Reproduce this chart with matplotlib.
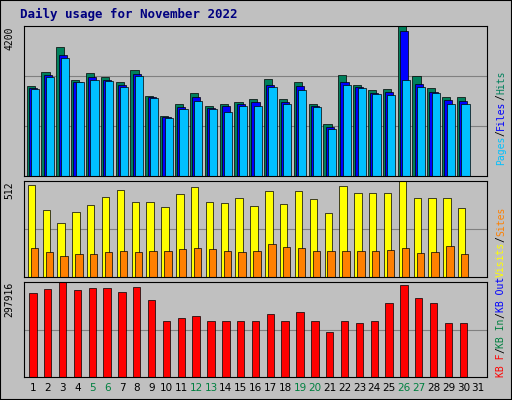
import numpy as np
from matplotlib import pyplot as plt

days = list(range(1, 32))
weekend = [5, 6, 12, 13, 19, 20, 26, 27]
hits = [2526, 2923, 3605, 2696, 2895, 2781, 2640, 2980, 2242, 1675, 2015, 2327, 1958, 2015, 2072,
        2157, 2724, 2157, 2640, 2015, 1447, 2838, 2554, 2412, 2441, 4200, 2810, 2469, 2214, 2214, 0]
files = [2470, 2840, 3380, 2640, 2760, 2700, 2560, 2850, 2200, 1640, 1930, 2200, 1900, 1960, 2010,
         2080, 2560, 2060, 2530, 1960, 1370, 2620, 2500, 2320, 2360, 4060, 2580, 2360, 2130, 2100, 0]
pages = [2450, 2780, 3300, 2620, 2700, 2650, 2500, 2800, 2180, 1620, 1880, 2100, 1880, 1800, 1960,
         1960, 2480, 2010, 2400, 1930, 1330, 2540, 2460, 2290, 2280, 2700, 2500, 2330, 2020, 2010, 0]
visits = [493, 358, 286, 347, 385, 428, 466, 401, 401, 374, 444, 482, 401, 396, 423,
          380, 461, 391, 461, 418, 342, 487, 450, 450, 450, 512, 423, 423, 423, 369, 0]
sites = [156, 135, 113, 124, 124, 135, 140, 135, 140, 140, 151, 156, 151, 140, 135,
         140, 178, 162, 156, 140, 140, 140, 140, 140, 146, 156, 129, 135, 167, 124, 0]
kbytes = [262000, 275000, 297916, 272000, 278000, 278000, 268000, 281000, 243000, 176000,
          186000, 192000, 176000, 176000, 176000, 176000, 196000, 176000, 205000, 176000,
          141000, 176000, 170000, 176000, 233000, 288000, 249000, 233000, 170000, 170000, 0]

bg = "#C0C0C0"
W, H = 512, 400
fig = plt.figure(figsize=(5.12, 4.0), dpi=100, facecolor=bg)
fig.text(20 / W, 1 - 14 / H, "Daily usage for November 2022", color="#000080",
         family="DejaVu Sans Mono", fontweight="bold", fontsize=9, va="center")


def panel(top, bottom):
    ax = fig.add_axes([24 / W, 1 - bottom / H, (487 - 24) / W, (bottom - top) / H])
    ax.set_facecolor(bg)
    ax.set_xlim(0.4, 31.6)
    ax.set_xticks([])
    ax.set_yticks([])
    return ax


x = np.array(days)
ax1 = panel(26, 176)
ax1.set_ylim(0, 4200)
for g in [1400, 2800]:
    ax1.axhline(g, color="#808080", lw=0.8, zorder=0)
ax1.bar(x - 0.15, hits, width=0.55, color="#00805C", edgecolor="black", lw=0.5)
ax1.bar(x, files, width=0.55, color="#0000FF", edgecolor="black", lw=0.5)
ax1.bar(x + 0.15, pages, width=0.55, color="#00C0FF", edgecolor="black", lw=0.5)
ax1.text(-0.02, 1, "4200", transform=ax1.transAxes, rotation=90, ha="right", va="top",
         family="DejaVu Sans Mono", fontsize=7)

ax2 = panel(181, 277)
ax2.set_ylim(0, 512)
ax2.axhline(256, color="#808080", lw=0.8, zorder=0)
ax2.bar(x - 0.1, visits, width=0.5, color="#FFFF00", edgecolor="black", lw=0.5)
ax2.bar(x + 0.1, sites, width=0.5, color="#FF8000", edgecolor="black", lw=0.5)
ax2.text(-0.02, 1, "512", transform=ax2.transAxes, rotation=90, ha="right", va="top",
         family="DejaVu Sans Mono", fontsize=7)

ax3 = panel(282, 377)
ax3.set_ylim(0, 297916)
ax3.axhline(148958, color="#808080", lw=0.8, zorder=0)
ax3.bar(x, kbytes, width=0.5, color="#FF0000", edgecolor="black", lw=0.5)
ax3.text(-0.02, 1, "297916", transform=ax3.transAxes, rotation=90, ha="right", va="top",
         family="DejaVu Sans Mono", fontsize=7)

for d in days:
    ax3.text(d, -0.06, str(d), transform=ax3.get_xaxis_transform(), ha="center", va="top",
             fontsize=7.5, color="#008040" if d in weekend else "black")


# right-side labels, pieces stacked bottom to top
def side(parts, y0):
    y = y0
    for txt, col in parts:
        fig.text(496 / W, 1 - y / H, txt, color=col, rotation=90, family="DejaVu Sans Mono",
                 fontsize=7, va="bottom", ha="left")
        y -= len(txt) * 5.9


side([("Pages", "#00C0FF"), ("/", "black"), ("Files", "#0000FF"), ("/", "black"), ("Hits", "#00805C")], 165)
side([("Visits", "#FFFF00"), ("/", "black"), ("Sites", "#FF8000")], 277)
side([("KB F", "#FF0000"), ("/", "black"), ("KB In", "#008040"), ("/", "black"), ("KB Out", "#0000FF")], 377)

fig.add_artist(plt.Rectangle((0, 0), 1, 1, transform=fig.transFigure, fill=False,
                             edgecolor="black", lw=1.5))
plt.savefig("out.png", dpi=100, facecolor=bg)
